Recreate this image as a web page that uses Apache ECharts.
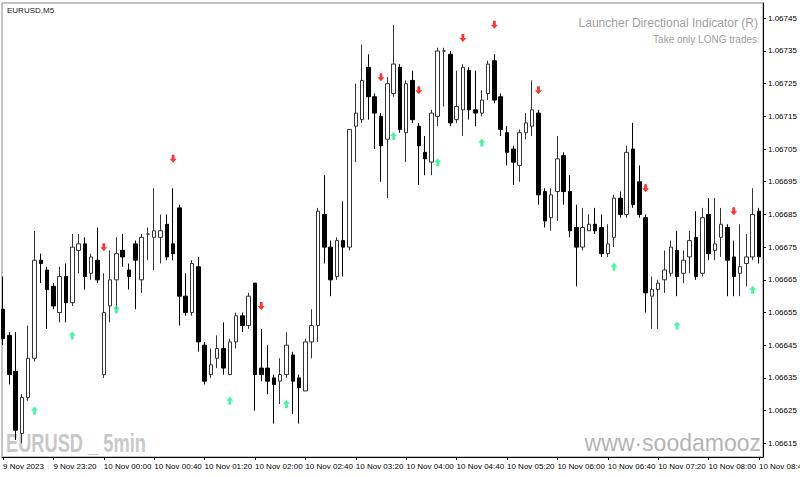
<!DOCTYPE html>
<html>
<head>
<meta charset="utf-8">
<script src="https://cdn.jsdelivr.net/npm/echarts@6/dist/echarts.min.js"></script>
<style>html,body{margin:0;padding:0;background:#fff}#c{width:800px;height:477px}</style>
</head>
<body>
<div id="c"></div>
<script>
// ---- data (EURUSD M5, candle index 0 = 9 Nov 22:40) ----
const timeLabels = ["9 Nov 2023","9 Nov 23:20","10 Nov 00:00","10 Nov 00:40","10 Nov 01:20","10 Nov 02:00","10 Nov 02:40","10 Nov 03:20","10 Nov 04:00","10 Nov 04:40","10 Nov 05:20","10 Nov 06:00","10 Nov 06:40","10 Nov 07:20","10 Nov 08:00","10 Nov 08:40"];
const labelStep = 8;
const priceTicks = [1.06615,1.06625,1.06635,1.06645,1.06655,1.06665,1.06675,1.06685,1.06695,1.06705,1.06715,1.06725,1.06735,1.06745];

const opens = [1.06656,1.06648,1.06637,1.06618,1.06629,1.06641,1.06671,1.06668,1.06663,1.06655,
1.06666,1.06658,1.06674,1.06676,1.06667,1.06671,1.06636,1.06657,1.06665,1.06674,
1.06668,1.06676,1.06665,1.06679,1.06678,1.06678,1.06682,1.06676,1.06687,1.06660,
1.06655,1.06669,1.06645,1.06636,1.06641,1.06644,1.06636,1.06646,1.06654,1.06651,
1.06664,1.06638,1.06638,1.06635,1.06634,1.06636,1.06642,1.06635,1.06631,1.06646,
1.06651,1.06685,1.06675,1.06666,1.06677,1.06675,1.06712,1.06714,1.06730,1.06721,
1.06715,1.06708,1.06722,1.06730,1.06710,1.06726,1.06712,1.06704,1.06701,1.06715,
1.06735,1.06734,1.06714,1.06717,1.06729,1.06717,1.06716,1.06722,1.06732,1.06721,
1.06710,1.06705,1.06700,1.06710,1.06712,1.06716,1.06692,1.06684,1.06692,1.06703,
1.06692,1.06681,1.06675,1.06680,1.06682,1.06681,1.06673,1.06678,1.06690,1.06685,
1.06705,1.06695,1.06684,1.06660,1.06662,1.06665,1.06667,1.06674,1.06667,1.06672,
1.06678,1.06667,1.06685,1.06674,1.06678,1.06681,1.06672,1.06667,1.06670,1.06672,
1.06686];
const closes = [1.06647,1.06636,1.06619,1.06629,1.06641,1.06671,1.06670,1.06662,1.06657,1.06666,
1.06658,1.06675,1.06676,1.06666,1.06672,1.06665,1.06655,1.06665,1.06673,1.06672,
1.06666,1.06671,1.06678,1.06679,1.06680,1.06680,1.06672,1.06673,1.06660,1.06655,
1.06670,1.06646,1.06634,1.06639,1.06644,1.06638,1.06646,1.06654,1.06651,1.06660,
1.06636,1.06636,1.06634,1.06633,1.06636,1.06645,1.06634,1.06632,1.06646,1.06651,
1.06686,1.06675,1.06665,1.06677,1.06675,1.06711,1.06716,1.06726,1.06721,1.06716,
1.06706,1.06725,1.06731,1.06711,1.06725,1.06714,1.06706,1.06702,1.06716,1.06735,
1.06735,1.06713,1.06718,1.06730,1.06717,1.06716,1.06720,1.06731,1.06720,1.06711,
1.06704,1.06701,1.06710,1.06713,1.06717,1.06691,1.06683,1.06691,1.06702,1.06692,
1.06680,1.06675,1.06681,1.06682,1.06680,1.06673,1.06676,1.06690,1.06685,1.06704,
1.06688,1.06685,1.06661,1.06662,1.06664,1.06668,1.06675,1.06666,1.06671,1.06677,
1.06666,1.06684,1.06673,1.06676,1.06682,1.06671,1.06666,1.06669,1.06672,1.06685,
1.06672];
const lows = [1.06645,1.06633,1.06616,1.06615,1.06628,1.06640,1.06664,1.06650,1.06656,1.06652,
1.06652,1.06657,1.06667,1.06662,1.06665,1.06664,1.06635,1.06652,1.06656,1.06669,
1.06662,1.06656,1.06661,1.06671,1.06668,1.06670,1.06671,1.06671,1.06651,1.06654,
1.06654,1.06643,1.06633,1.06635,1.06638,1.06636,1.06636,1.06644,1.06649,1.06650,
1.06625,1.06634,1.06630,1.06621,1.06627,1.06635,1.06624,1.06621,1.06631,1.06641,
1.06646,1.06670,1.06660,1.06665,1.06666,1.06674,1.06701,1.06713,1.06714,1.06705,
1.06695,1.06690,1.06721,1.06710,1.06701,1.06713,1.06694,1.06697,1.06697,1.06712,
1.06718,1.06712,1.06713,1.06709,1.06714,1.06712,1.06715,1.06720,1.06719,1.06709,
1.06700,1.06694,1.06695,1.06708,1.06709,1.06688,1.06681,1.06680,1.06683,1.06688,
1.06678,1.06663,1.06674,1.06680,1.06679,1.06672,1.06672,1.06675,1.06684,1.06684,
1.06687,1.06684,1.06655,1.06650,1.06650,1.06661,1.06666,1.06660,1.06664,1.06667,
1.06665,1.06666,1.06671,1.06671,1.06672,1.06660,1.06660,1.06660,1.06663,1.06671,
1.06670];
const highs = [1.06666,1.06649,1.06649,1.06630,1.06651,1.06680,1.06673,1.06669,1.06664,1.06669,
1.06670,1.06679,1.06679,1.06678,1.06673,1.06681,1.06667,1.06674,1.06678,1.06679,
1.06670,1.06677,1.06679,1.06681,1.06693,1.06685,1.06685,1.06693,1.06688,1.06667,
1.06671,1.06672,1.06646,1.06644,1.06648,1.06652,1.06647,1.06655,1.06655,1.06661,
1.06664,1.06650,1.06645,1.06636,1.06641,1.06649,1.06643,1.06636,1.06647,1.06656,
1.06687,1.06697,1.06677,1.06678,1.06689,1.06711,1.06725,1.06737,1.06734,1.06722,
1.06716,1.06727,1.06743,1.06731,1.06726,1.06729,1.06713,1.06709,1.06717,1.06736,
1.06736,1.06735,1.06729,1.06731,1.06730,1.06729,1.06723,1.06732,1.06734,1.06722,
1.06712,1.06706,1.06711,1.06716,1.06726,1.06717,1.06693,1.06693,1.06709,1.06704,
1.06697,1.06688,1.06687,1.06685,1.06687,1.06685,1.06682,1.06691,1.06692,1.06706,
1.06713,1.06700,1.06685,1.06666,1.06665,1.06674,1.06677,1.06680,1.06674,1.06680,
1.06686,1.06687,1.06690,1.06690,1.06687,1.06682,1.06677,1.06682,1.06679,1.06693,
1.06687];

// indicator arrows: candle index and price level
const sellIdx = [16,27,41,60,66,73,78,85,102,116];
const sellPrice = [1.06675,1.06702,1.06657,1.06727,1.06723,1.06739,1.06743,1.06723,1.06693,1.06686];
const buyIdx = [5,11,18,36,45,62,69,76,97,107,119];
const buyPrice = [1.06625,1.06648,1.06656,1.06628,1.06627,1.06709,1.06701,1.06707,1.06669,1.06651,1.06662];

// ---- build ----
const candleData = opens.map((o, i) => [i, o, closes[i], lows[i], highs[i]]);
const sellData = sellIdx.map((x, k) => [x, sellPrice[k]]);
const buyData = buyIdx.map((x, k) => [x, buyPrice[k]]);
const labelPos = timeLabels.map((_, k) => k * labelStep);

const FONT = '"Liberation Sans", Arial, sans-serif';
const chart = echarts.init(document.getElementById('c'), null, {renderer: 'svg'});
chart.setOption({
  animation: false,
  backgroundColor: '#fff',
  grid: {left: 2, right: 37, top: 3, bottom: 20, show: true, borderColor: '#888', borderWidth: 1,
         containLabel: false, outerBoundsMode: 'none'},
  xAxis: {
    type: 'value', min: -0.16, max: 120.64,
    splitLine: {show: false},
    axisLine: {show: true, onZero: false, lineStyle: {color: '#000', width: 1}},
    axisTick: {show: true, length: 3, customValues: labelPos, lineStyle: {color: '#000'}},
    axisLabel: {
      customValues: labelPos, align: 'left', margin: 5, hideOverlap: false,
      fontFamily: FONT, fontSize: 8, color: '#000',
      formatter: v => timeLabels[Math.round(v / labelStep)]
    }
  },
  yAxis: {
    type: 'value', position: 'right', scale: true,
    min: 1.066108, max: 1.0674968,
    splitLine: {show: false},
    axisLine: {show: true, onZero: false, lineStyle: {color: '#000', width: 1}},
    axisTick: {show: true, length: 3, customValues: priceTicks, lineStyle: {color: '#000'}},
    axisLabel: {
      customValues: priceTicks, margin: 5,
      fontFamily: FONT, fontSize: 8, color: '#000',
      formatter: v => v.toFixed(5)
    }
  },
  graphic: [
    {type: 'text', left: 7, top: 6, style: {text: 'EURUSD,M5', font: '8px ' + FONT, fill: '#222'}},
    {type: 'text', right: 42, top: 17, style: {text: 'Launcher Directional Indicator (R)', font: '12px ' + FONT, fill: '#a0a0a0'}},
    {type: 'text', right: 43, top: 34, style: {text: 'Take only LONG trades', font: '10px ' + FONT, fill: '#a0a0a0'}},
    {type: 'text', x: 6, y: 431, scaleX: 0.73, style: {text: 'EURUSD _ 5min', font: 'bold 25px ' + FONT, fill: '#c8c8c8'}},
    {type: 'text', right: 39, top: 431, style: {text: 'www·soodamooz', font: '23px ' + FONT, fill: '#b4b4b4'}}
  ],
  series: [
    {
      type: 'candlestick',
      data: candleData,
      encode: {x: 0, y: [1, 2, 3, 4]},
      barWidth: 4,
      itemStyle: {color: '#fff', color0: '#000', borderColor: '#333', borderColor0: '#000', borderWidth: 1}
    },
    {
      type: 'scatter', data: sellData,
      symbol: 'path://M3,0 L7,0 L7,5 L10,5 L5,10 L0,5 L3,5 Z', symbolSize: [7, 8],
      itemStyle: {color: '#ff0000'}
    },
    {
      type: 'scatter', data: buyData,
      symbol: 'path://M5,0 L10,5 L7,5 L7,10 L3,10 L3,5 L0,5 Z', symbolSize: [7, 8],
      itemStyle: {color: '#14f58a'}
    }
  ]
});
</script>
</body>
</html>
